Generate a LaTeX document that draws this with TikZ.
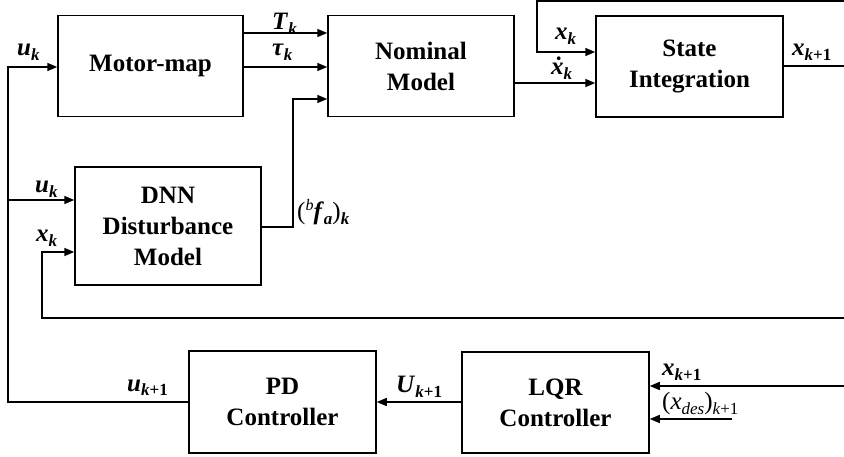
\documentclass[tikz,border=0pt]{standalone}
\usepackage{fontspec}
\setmainfont{Liberation Serif}
\usetikzlibrary{arrows.meta}
\newcommand\bv[1]{\textbf{\textit{#1}}}
\newcommand\sbs[1]{\raisebox{-5pt}{\fontsize{17}{17}\selectfont #1}}
\newcommand\sps[1]{\raisebox{9pt}{\fontsize{16}{16}\selectfont #1}}
\begin{document}
\begin{tikzpicture}[x=1pt,y=-1pt,
  blk/.style={draw,line width=1.5pt,inner sep=0pt,align=center,
    font=\bfseries\fontsize{25}{31}\selectfont},
  wire/.style={line width=1.5pt},
  arr/.style={wire,-{Triangle[length=10pt,width=8pt]}},
  lbl/.style={inner sep=0pt,anchor=base west,font=\fontsize{25}{26}\selectfont}]
\useasboundingbox (0,0) rectangle (844,457);

% blocks
\node[blk,minimum width=185pt,minimum height=101pt] (mm) at (150.5,66) {Motor-map};
\node[blk,minimum width=186pt,minimum height=101pt] (nm) at (421,66) {Nominal\\Model};
\node[blk,minimum width=187pt,minimum height=101pt] (si) at (689.5,66.5) {State\\Integration};
\node[blk,minimum width=186pt,minimum height=118pt] (dnn) at (168,226) {DNN\\Disturbance\\Model};
\node[blk,minimum width=187pt,minimum height=102pt] (pd) at (282.5,402) {PD\\Controller};
\node[blk,minimum width=187pt,minimum height=101pt] (lqr) at (555.5,402.5) {LQR\\Controller};

% helper coordinates
\coordinate (lb) at (8,402);
\coordinate (lt) at (8,67);
\coordinate (lu) at (8,200);
\coordinate (fr) at (844,318);
\coordinate (fl) at (42,318);
\coordinate (fx) at (42,252);
\coordinate (fa) at (293,227);
\coordinate (fb) at (293,99);
\coordinate (tr) at (844,1);
\coordinate (tl) at (537,1);
\coordinate (tx) at (537,52);
\coordinate (xo) at (844,66);
\coordinate (xr) at (844,386);
\coordinate (xd) at (732,419);

% connectors
\draw[arr] (pd.west |- lb) -- (lb) -- (lt) -- (mm.west |- lt);
\draw[arr] (lu) -- (dnn.west |- lu);
\draw[arr] (mm.east |- 0,33) -- (nm.west |- 0,33);
\draw[arr] (mm.east |- 0,67) -- (nm.west |- 0,67);
\draw[arr] (dnn.east |- fa) -- (fa) -- (fb) -- (nm.west |- fb);
\draw[arr] (nm.east |- 0,83) -- (si.west |- 0,83);
\draw[arr] (tr) -- (tl) -- (tx) -- (si.west |- tx);
\draw[wire] (si.east |- xo) -- (xo);
\draw[arr] (fr) -- (fl) -- (fx) -- (dnn.west |- fx);
\draw[arr] (lqr.west |- 0,402) -- (pd.east |- 0,402);
\draw[arr] (xr) -- (lqr.east |- xr);
\draw[arr] (xd) -- (lqr.east |- xd);

% labels
\node[lbl] (l1) at (17,56) {\bv{u}\sbs{\bv{k}}};
\node[lbl] (l2) at (272,30) {\bv{T}\sbs{\bv{k}}};
\node[lbl] (l3) at (272,56) {\bv{τ}\sbs{\bv{k}}};
\node[lbl] (l4) at (555,40) {\bv{x}\sbs{\bv{k}}};
\node[lbl] (l5) at (551,75) {\bv{\.x}\sbs{\bv{k}}};
\node[lbl] (l6) at (792,56) {\bv{x}\sbs{\bv{k}\textbf{+1}}};
\node[lbl] (l7) at (35,193) {\bv{u}\sbs{\bv{k}}};
\node[lbl] (l8) at (36,242) {\bv{x}\sbs{\bv{k}}};
\node[lbl] (l9) at (297,220) {(\sps{\textit{b}}\bv{f}\sbs{\bv{a}})\sbs{\bv{k}}};
\node[lbl] (l10) at (127,391) {\bv{u}\sbs{\bv{k}\textbf{+1}}};
\node[lbl] (l11) at (396,392) {\bv{U}\sbs{\bv{k}\textbf{+1}}};
\node[lbl] (l12) at (662,375) {\bv{x}\sbs{\bv{k}\textbf{+1}}};
\node[lbl] (l13) at (662,409) {(\textit{x}\sbs{\textit{des}})\sbs{\textit{k}+1}};
\end{tikzpicture}
\end{document}
